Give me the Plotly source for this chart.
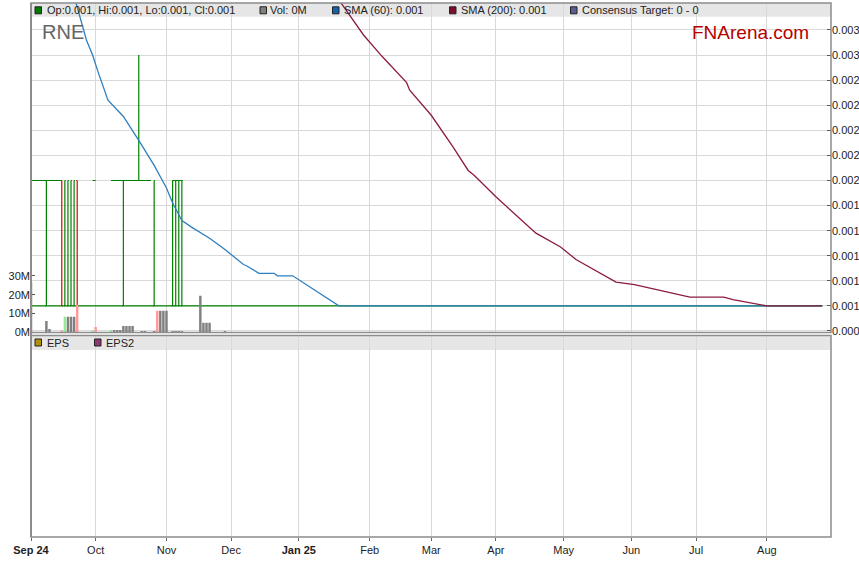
import plotly.graph_objects as go

# ---------------- data ----------------
# OHLC bars (up days / down days) - all other days flat at 0.001
up_dates = ["2024-09-02", "2024-09-09", "2024-09-17", "2024-09-18", "2024-09-19", "2024-09-20",
            "2024-10-14", "2024-10-21", "2024-10-28", "2024-11-05", "2024-11-06", "2024-11-07", "2024-11-08"]
up_open = [0.001, 0.001, 0.001, 0.001, 0.001, 0.001, 0.001, 0.002, 0.001, 0.001, 0.001, 0.001, 0.001]
up_high = [0.002, 0.002, 0.002, 0.002, 0.002, 0.002, 0.002, 0.003, 0.002, 0.002, 0.002, 0.002, 0.002]
up_low = [0.001, 0.001, 0.001, 0.001, 0.001, 0.001, 0.001, 0.002, 0.001, 0.001, 0.001, 0.001, 0.001]
up_close = [0.002, 0.002, 0.002, 0.002, 0.002, 0.002, 0.002, 0.002, 0.002, 0.002, 0.002, 0.002, 0.002]

down_dates = ["2024-09-16", "2024-09-23"]
down_open = [0.002, 0.002]
down_high = [0.002, 0.002]
down_low = [0.001, 0.001]
down_close = [0.001, 0.001]

# daily low / close level (step line)
low_dates = ["2024-09-02", "2025-08-27"]
low_vals = [0.001, 0.001]

# daily high level where it sat at 0.002 (step segments)
high_dates = ["2024-09-02", "2024-09-16", "2024-09-17",
              "2024-09-30", "2024-10-01", "2024-10-02",
              "2024-10-08", "2024-10-25", "2024-10-28",
              "2024-11-05", "2024-11-08"]
high_vals = [0.002, 0.002, None, 0.002, 0.002, None, 0.002, 0.002, None, 0.002, 0.002]

# volume (millions) and direction (u=up, d=down, n=neutral)
vol_dates = ["2024-09-02", "2024-09-09", "2024-09-10", "2024-09-16", "2024-09-17", "2024-09-18",
             "2024-09-19", "2024-09-20", "2024-09-23", "2024-09-30", "2024-10-01", "2024-10-08",
             "2024-10-09", "2024-10-10", "2024-10-11", "2024-10-14", "2024-10-15", "2024-10-16",
             "2024-10-17", "2024-10-22", "2024-10-23", "2024-10-28", "2024-10-29", "2024-10-30",
             "2024-10-31", "2024-11-01", "2024-11-05", "2024-11-06", "2024-11-07", "2024-11-08",
             "2024-11-18", "2024-11-19", "2024-11-20", "2024-11-21", "2024-11-28"]
vol_vals = [26.5, 6.0, 1.8, 1.0, 8.3, 8.3, 8.3, 8.3, 14.6, 1.0, 2.8, 1.2,
            1.2, 1.2, 1.2, 3.4, 3.4, 3.4, 3.4, 0.7, 0.7, 0.7, 11.4, 11.4,
            11.4, 11.4, 0.7, 0.7, 0.7, 0.7, 19.4, 5.1, 5.1, 5.1, 0.7]
vol_dir = ["n", "n", "n", "d", "u", "n", "n", "n", "d", "u", "d", "u",
           "n", "n", "n", "n", "n", "n", "n", "n", "n", "n", "d", "n",
           "n", "n", "n", "n", "n", "n", "n", "n", "n", "n", "n"]

# SMA(60)
sma60_dates = ["2024-09-20", "2024-09-26", "2024-09-30", "2024-10-01", "2024-10-02", "2024-10-07",
               "2024-10-14", "2024-10-21", "2024-10-28", "2024-11-01", "2024-11-05", "2024-11-08",
               "2024-11-13", "2024-11-21", "2024-11-28", "2024-12-06", "2024-12-09", "2024-12-13",
               "2024-12-20", "2024-12-23", "2024-12-30", "2025-01-20", "2025-08-27"]
sma60_vals = [0.00347, 0.00312, 0.00300, 0.00292, 0.00285, 0.00264,
              0.00251, 0.00232, 0.00212, 0.00194, 0.00182, 0.00168,
              0.00163, 0.00154, 0.00145, 0.00133, 0.00132, 0.00126,
              0.00126, 0.00124, 0.00124, 0.00100, 0.00100]

# SMA(200)
sma200_dates = ["2025-01-20", "2025-01-30", "2025-02-07", "2025-02-19", "2025-02-20", "2025-03-03",
                "2025-03-12", "2025-03-19", "2025-03-21", "2025-04-01", "2025-04-18", "2025-04-30",
                "2025-05-07", "2025-05-26", "2025-06-03", "2025-06-19", "2025-06-27", "2025-07-14",
                "2025-07-17", "2025-08-01", "2025-08-27"]
sma200_vals = [0.00344, 0.00316, 0.00299, 0.00278, 0.00272, 0.00252,
               0.00227, 0.00208, 0.00204, 0.00187, 0.00158, 0.00147,
               0.00137, 0.00119, 0.00117, 0.00110, 0.00107, 0.00107,
               0.00105, 0.00100, 0.00100]

price_ticks = [0.0008, 0.0010, 0.0012, 0.0014, 0.0016, 0.0018, 0.0020,
               0.0022, 0.0024, 0.0026, 0.0028, 0.0030, 0.0032]
vol_ticks = [0, 10, 20, 30]
month_ticks = ["2024-09-02", "2024-10-01", "2024-11-01", "2024-12-02", "2025-01-01", "2025-02-03",
               "2025-03-03", "2025-04-01", "2025-05-01", "2025-06-02", "2025-07-01", "2025-08-01"]
month_labels = ["<b>Sep 24</b>", "Oct", "Nov", "Dec", "<b>Jan 25</b>", "Feb",
                "Mar", "Apr", "May", "Jun", "Jul", "Aug"]

# ---------------- styling ----------------
FONT = "Liberation Sans, Arial, sans-serif"
GREEN = "#008000"
RED = "#e00000"
GRID = "#d9d9d9"
FRAME = "#8c8c8c"
W, H = 859, 566
L, R, T, B = 31, 28, 3, 29
PW, PH = W - L - R, H - T - B


def px(x):
    return (x - L) / PW


def py(y):
    return (H - B - y) / PH


top_dom = [py(332.5), 1.0]
bot_dom = [0.0, py(335.5)]

vol_color_map = {"u": "#90ee90", "d": "#ff9a9a", "n": "#808080"}

fig = go.Figure()

fig.add_trace(go.Scatter(x=low_dates, y=low_vals, mode="lines", line=dict(color=GREEN, width=1.2, shape="hv"),
                         xaxis="x", yaxis="y", hoverinfo="skip", showlegend=False))
fig.add_trace(go.Scatter(x=high_dates, y=high_vals, mode="lines", connectgaps=False,
                         line=dict(color=GREEN, width=1.2, shape="hv"),
                         xaxis="x", yaxis="y", hoverinfo="skip", showlegend=False))
fig.add_trace(go.Ohlc(x=up_dates, open=up_open, high=up_high, low=up_low, close=up_close,
                      increasing=dict(line=dict(color=GREEN, width=1.2)),
                      decreasing=dict(line=dict(color=GREEN, width=1.2)),
                      tickwidth=0.3, xaxis="x", yaxis="y", hoverinfo="skip", showlegend=False))
fig.add_trace(go.Ohlc(x=down_dates, open=down_open, high=down_high, low=down_low, close=down_close,
                      increasing=dict(line=dict(color=RED, width=1.2)),
                      decreasing=dict(line=dict(color=RED, width=1.2)),
                      tickwidth=0.3, xaxis="x", yaxis="y", hoverinfo="skip", showlegend=False))
fig.add_trace(go.Scatter(x=sma60_dates, y=sma60_vals, mode="lines", line=dict(color="#2f7fc0", width=1.3),
                         xaxis="x", yaxis="y", hoverinfo="skip", showlegend=False))
fig.add_trace(go.Scatter(x=sma200_dates, y=sma200_vals, mode="lines", line=dict(color="#8b1c3f", width=1.3),
                         xaxis="x", yaxis="y", hoverinfo="skip", showlegend=False))
fig.add_trace(go.Bar(x=vol_dates, y=[v * 1e6 for v in vol_vals],
                     marker=dict(color=[vol_color_map[d] for d in vol_dir], line=dict(width=0)),
                     xaxis="x", yaxis="y2", hoverinfo="skip", showlegend=False))
# EPS pane (no data)
fig.add_trace(go.Scatter(x=["2024-09-02"], y=[None], mode="lines", xaxis="x", yaxis="y3",
                         hoverinfo="skip", showlegend=False))

fig.update_layout(
    width=W, height=H,
    margin=dict(l=L, r=R, t=T, b=B, autoexpand=False),
    paper_bgcolor="white", plot_bgcolor="white",
    font=dict(family=FONT, size=11, color="#222"),
    showlegend=False,
    bargap=0.2,
    xaxis=dict(
        type="date", anchor="y3", automargin=False,
        range=["2024-09-02", "2025-08-29 20:00"],
        rangebreaks=[dict(bounds=["sat", "mon"])],
        tickvals=month_ticks, ticktext=month_labels,
        ticks="outside", ticklen=3, tickcolor="#666",
        showgrid=True, gridcolor=GRID, gridwidth=1,
        showline=False, zeroline=False,
        tickfont=dict(family=FONT, size=11, color="#222"),
    ),
    yaxis=dict(
        domain=top_dom, anchor="x", side="right", automargin=False,
        range=[0.000788, 0.003415],
        tickvals=price_ticks, ticktext=["%.4f" % v for v in price_ticks],
        ticks="inside", ticklen=4, tickcolor="#555",
        showgrid=True, gridcolor=GRID, zeroline=False, showline=False,
        tickfont=dict(family=FONT, size=11, color="#222"),
    ),
    yaxis2=dict(
        domain=top_dom, anchor="x", overlaying="y", side="left", automargin=False,
        range=[-0.1e6, 175e6],
        tickvals=[v * 1e6 for v in vol_ticks], ticktext=["%dM" % v for v in vol_ticks],
        ticks="inside", ticklen=4, tickcolor="#555",
        showgrid=False, zeroline=False, showline=False,
        tickfont=dict(family=FONT, size=11, color="#222"),
    ),
    yaxis3=dict(
        domain=bot_dom, anchor="x", range=[0, 1], automargin=False,
        showticklabels=False, ticks="", showgrid=False, zeroline=False, showline=False,
    ),
)

shapes = []
# legend bands
shapes.append(dict(type="rect", xref="paper", yref="paper", x0=0, x1=1,
                   y0=py(16.7), y1=1, fillcolor="#e6e6e6", line=dict(width=0), layer="below"))
shapes.append(dict(type="rect", xref="paper", yref="paper", x0=0, x1=1,
                   y0=py(350), y1=py(335.5), fillcolor="#e6e6e6", line=dict(width=0), layer="below"))
# frames
shapes.append(dict(type="rect", xref="paper", yref="paper", x0=0, x1=1, y0=top_dom[0], y1=1,
                   line=dict(color=FRAME, width=1.5), fillcolor="rgba(0,0,0,0)", layer="above"))
shapes.append(dict(type="rect", xref="paper", yref="paper", x0=0, x1=1, y0=0, y1=bot_dom[1],
                   line=dict(color=FRAME, width=1.5), fillcolor="rgba(0,0,0,0)", layer="above"))
shapes.append(dict(type="line", xref="paper", yref="paper", x0=0, x1=0, y0=0, y1=1,
                   line=dict(color=FRAME, width=2), layer="above"))

annotations = []


def legend_item(x_sq, y_c, color, text, x_text):
    shapes.append(dict(type="rect", xref="paper", yref="paper",
                       x0=px(x_sq), x1=px(x_sq + 6.5), y0=py(y_c + 3.5), y1=py(y_c - 3.5),
                       fillcolor=color, line=dict(color="#222", width=1), layer="above"))
    annotations.append(dict(xref="paper", yref="paper", x=px(x_text - 2), y=py(y_c), text=text,
                            showarrow=False, xanchor="left", yanchor="middle",
                            font=dict(family=FONT, size=11, color="#222")))


legend_item(35, 10.3, "#007a00", "Op:0.001, Hi:0.001, Lo:0.001, Cl:0.001", 46.5)
legend_item(260, 10.3, "#808080", "Vol: 0M", 269.5)
legend_item(332.5, 10.3, "#1462a8", "SMA (60): 0.001", 343.5)
legend_item(449.5, 10.3, "#7a0f2e", "SMA (200): 0.001", 460.5)
legend_item(570.5, 10.3, "#5b5b8f", "Consensus Target: 0 - 0", 582)
legend_item(35, 342.5, "#b08e0a", "EPS", 46.5)
legend_item(94.5, 342.5, "#8a3a6c", "EPS2", 105.5)

annotations.append(dict(xref="paper", yref="paper", x=px(40), y=py(32.5), text="RNE",
                        showarrow=False, xanchor="left", yanchor="middle",
                        font=dict(family=FONT, size=20, color="#666666")))
annotations.append(dict(xref="paper", yref="paper", x=px(690), y=py(32.5), text="FNArena.com",
                        showarrow=False, xanchor="left", yanchor="middle",
                        font=dict(family=FONT, size=19, color="#b50000")))

fig.update_layout(shapes=shapes, annotations=annotations)

fig.write_html("out.html",
               config={"displayModeBar": False},
               post_script="document.body.style.margin='0';document.body.style.overflow='hidden';")
